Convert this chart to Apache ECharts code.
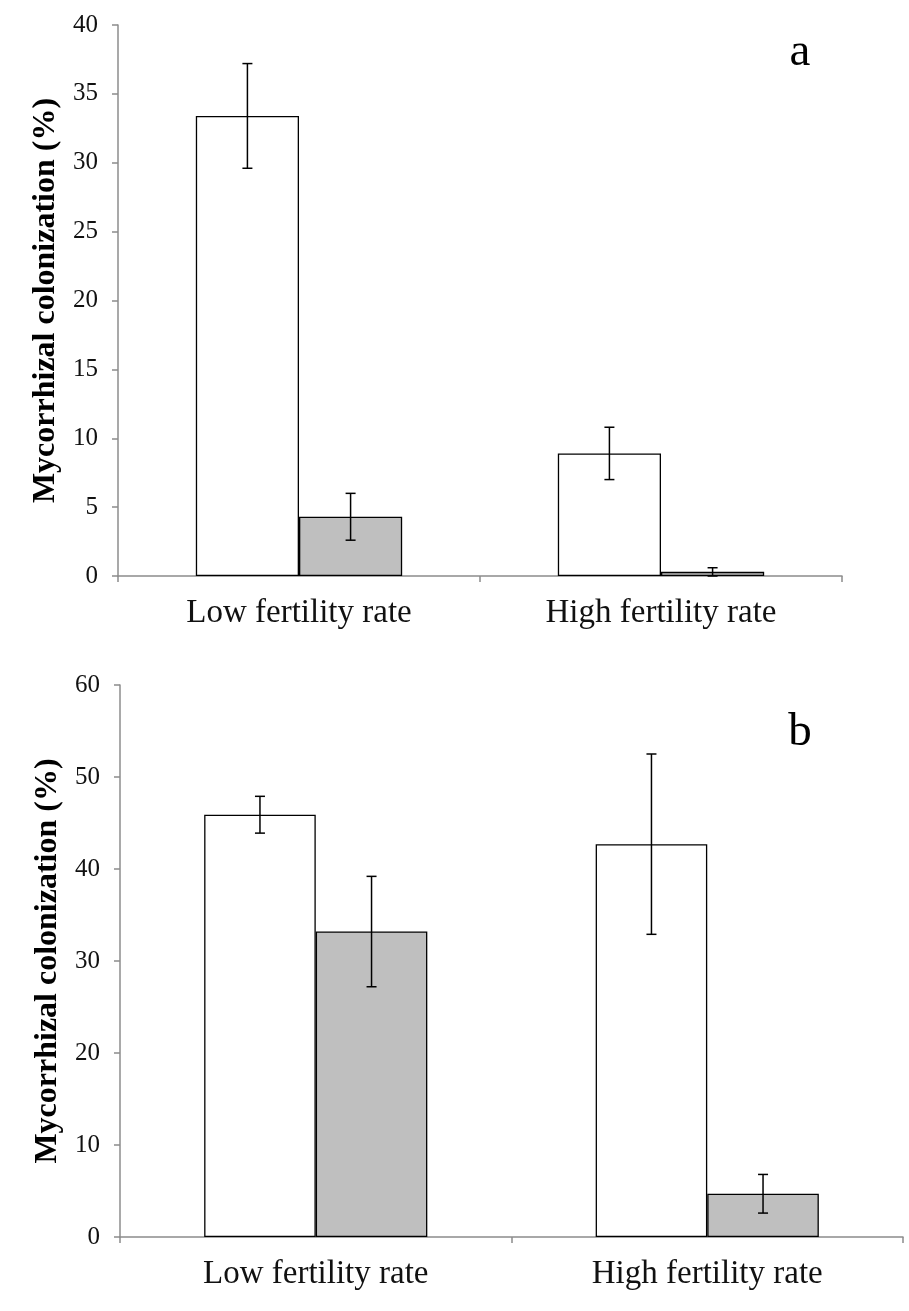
<!DOCTYPE html>
<html>
<head>
    <meta charset="utf-8">
    <title>Mycorrhizal colonization</title>
    <script src="https://cdn.jsdelivr.net/npm/echarts@6/dist/echarts.min.js"></script>
    <style>
        html, body { margin: 0; padding: 0; background: #fff; }
    </style>
</head>
<body>

<div id='chart' style="width: 909px; height: 1311px;"></div>
<script type="text/javascript">
    // categories
    var categories = ['Low fertility rate', 'High fertility rate'];

    // panel a: means and standard errors
    var aWhite = [33.4, 8.9];
    var aWhiteErr = [3.8, 1.9];
    var aGray = [4.3, 0.3];
    var aGrayErr = [1.7, 0.3];

    // panel b
    var bWhite = [45.9, 42.7];
    var bWhiteErr = [2.0, 9.8];
    var bGray = [33.2, 4.7];
    var bGrayErr = [6.0, 2.1];

    // y ticks
    var aTicks = {min: 0, max: 40, interval: 5};
    var bTicks = {min: 0, max: 60, interval: 10};

    var serif = 'Liberation Serif';
    var axisGray = '#8c8c8c';

    var myChart = echarts.init(document.getElementById('chart'));

    // error bar drawn through the axis scale; side -1 = white bar, +1 = gray bar
    function errorSeries(gridIdx, means, errs, side) {
        var data = [];
        for (var i = 0; i < means.length; i++) {
            data.push([i, means[i] - errs[i], means[i] + errs[i]]);
        }
        return {
            type: 'custom',
            xAxisIndex: gridIdx,
            yAxisIndex: gridIdx,
            z: 10,
            silent: true,
            data: data,
            renderItem: function (params, api) {
                var band = api.size([1, 0])[0];
                var shift = side * band * 0.57 / 4;
                var lo = api.coord([api.value(0), api.value(1)]);
                var hi = api.coord([api.value(0), api.value(2)]);
                var x = lo[0] + shift;
                var cap = 5;
                var st = {stroke: '#000', lineWidth: 1.5};
                return {
                    type: 'group',
                    children: [
                        {type: 'line', shape: {x1: x, y1: hi[1], x2: x, y2: lo[1]}, style: st},
                        {type: 'line', shape: {x1: x - cap, y1: hi[1], x2: x + cap, y2: hi[1]}, style: st},
                        {type: 'line', shape: {x1: x - cap, y1: lo[1], x2: x + cap, y2: lo[1]}, style: st}
                    ]
                };
            }
        };
    }

    function barSeries(gridIdx, values, color) {
        return {
            type: 'bar',
            xAxisIndex: gridIdx,
            yAxisIndex: gridIdx,
            data: values,
            barGap: '0%',
            barCategoryGap: '43%',
            itemStyle: {color: color, borderColor: '#000', borderWidth: 1.3},
            silent: true
        };
    }

    function xAxisOf(gridIdx) {
        return {
            type: 'category',
            gridIndex: gridIdx,
            data: categories,
            axisLine: {lineStyle: {color: axisGray, width: 1.5}},
            axisTick: {show: true, length: 6, lineStyle: {color: axisGray, width: 1.5}},
            axisLabel: {color: '#111', fontFamily: serif, fontSize: 33, margin: 21}
        };
    }

    function yAxisOf(gridIdx, t) {
        return {
            type: 'value',
            gridIndex: gridIdx,
            min: t.min,
            max: t.max,
            interval: t.interval,
            name: 'Mycorrhizal colonization (%)',
            nameLocation: 'middle',
            nameGap: 56,
            nameTextStyle: {fontFamily: serif, fontWeight: 'bold', fontSize: 32, color: '#000'},
            axisLine: {show: true, lineStyle: {color: axisGray, width: 1.5}},
            axisTick: {show: true, length: 6, lineStyle: {color: axisGray, width: 1.5}},
            axisLabel: {color: '#111', fontFamily: serif, fontSize: 25, margin: 20},
            splitLine: {show: false}
        };
    }

    var panelFont = 'normal 47px "Liberation Serif"';

    var option = {
        animation: false,
        backgroundColor: '#fff',
        graphic: [
            {type: 'text', x: 800, y: 53, style: {text: 'a', font: panelFont, fill: '#000', align: 'center', verticalAlign: 'middle'}},
            {type: 'text', x: 800, y: 733, style: {text: 'b', font: panelFont, fill: '#000', align: 'center', verticalAlign: 'middle'}}
        ],
        grid: [
            {left: 118, width: 724, top: 25, height: 551, outerBoundsMode: 'none'},
            {left: 120, width: 783, top: 685, height: 552, outerBoundsMode: 'none'}
        ],
        xAxis: [xAxisOf(0), xAxisOf(1)],
        yAxis: [yAxisOf(0, aTicks), yAxisOf(1, bTicks)],
        series: [
            barSeries(0, aWhite, '#fff'),
            barSeries(0, aGray, '#bfbfbf'),
            errorSeries(0, aWhite, aWhiteErr, -1),
            errorSeries(0, aGray, aGrayErr, 1),
            barSeries(1, bWhite, '#fff'),
            barSeries(1, bGray, '#bfbfbf'),
            errorSeries(1, bWhite, bWhiteErr, -1),
            errorSeries(1, bGray, bGrayErr, 1)
        ]
    };

    myChart.setOption(option);
</script>
</body>
</html>
